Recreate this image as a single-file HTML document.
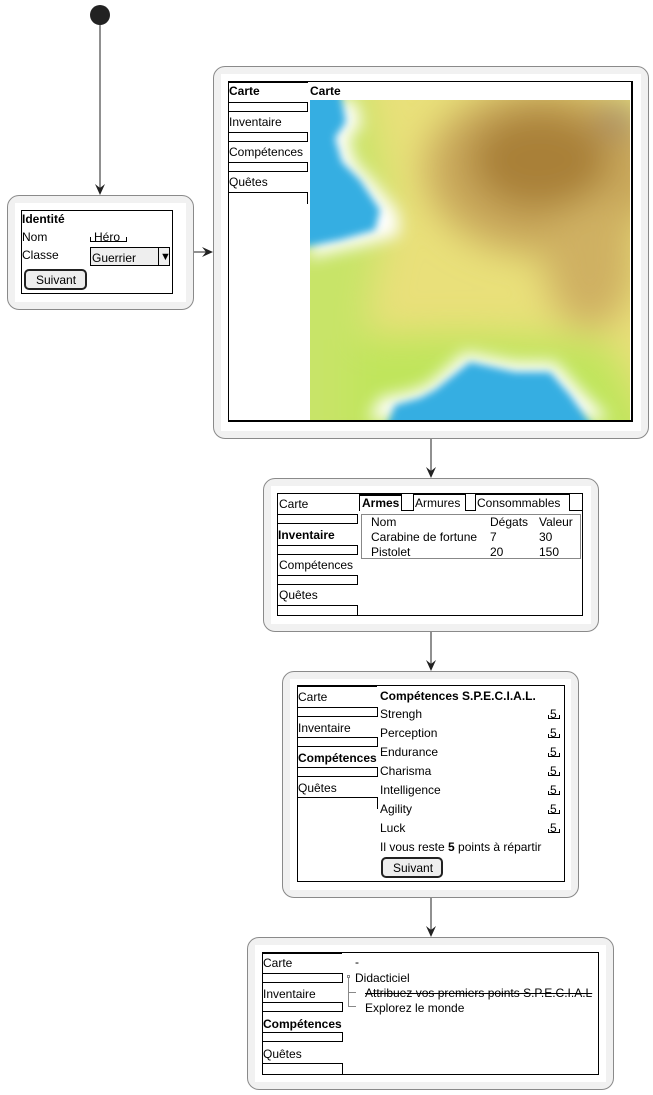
<!DOCTYPE html>
<html><head><meta charset="utf-8"><style>
body{margin:0;width:653px;height:1095px;position:relative;background:#fff;font-family:"Liberation Sans",sans-serif;font-size:12px;color:#000;overflow:hidden}
div,span{position:absolute;box-sizing:border-box}
.o{border:1px solid #8a8a8a;border-radius:12px;background:#f1f1f1}
.w{background:#fff}
.f{border:1px solid #000}
.t{white-space:nowrap;line-height:14px}
.b{font-weight:bold}
.bx{border:1px solid #000;height:10px}
.v{width:1px;background:#000}
.h{height:1px;background:#000}
</style></head><body>
<svg style="position:absolute;left:0;top:0" width="653" height="1095">
<circle cx="100" cy="15" r="10" fill="#222"/>
<g stroke="#222" stroke-width="1" fill="none">
<line x1="100" y1="25" x2="100" y2="193"/>
<line x1="193" y1="252" x2="211" y2="252"/>
<line x1="431" y1="438" x2="431" y2="476"/>
<line x1="431" y1="631" x2="431" y2="669"/>
<line x1="431" y1="897" x2="431" y2="935"/>
</g>
<g fill="#222">
<polygon points="95,184 100,195 105,184 100,188"/>
<polygon points="202,247 213,252 202,257 206,252"/>
<polygon points="426,467 431,478 436,467 431,471"/>
<polygon points="426,660 431,671 436,660 431,664"/>
<polygon points="426,926 431,937 436,926 431,930"/>
</g>
</svg>

<!-- Box 1 -->
<div class="o" style="left:7px;top:195px;width:187px;height:115px"></div>
<div class="w" style="left:15px;top:203px;width:171px;height:99px"></div>
<div class="f" style="left:21px;top:210px;width:152px;height:84px"></div>
<span class="t b" style="left:22px;top:212px">Identité</span>
<span class="t" style="left:22px;top:230px">Nom</span>
<span class="t" style="left:94px;top:230px">Héro</span>
<div style="left:90px;top:237px;width:37px;height:5px;border:1px solid #000;border-top:none"></div>
<span class="t" style="left:22px;top:248px">Classe</span>
<div style="left:90px;top:247px;width:80px;height:19px;border:1px solid #000;background:#eee"></div>
<span class="t" style="left:92px;top:251px">Guerrier</span>
<div style="left:158px;top:247px;width:1px;height:19px;background:#000"></div>
<span class="t" style="left:160px;top:250px;font-size:11px">▼</span>
<div style="left:24px;top:269px;width:63px;height:21px;border:2px solid #222;border-radius:5px;background:#eee"></div>
<span class="t" style="left:36px;top:273px">Suivant</span>

<!-- Box 2 map -->
<div class="o" style="left:213px;top:66px;width:436px;height:373px"></div>
<div class="w" style="left:221px;top:74px;width:420px;height:357px"></div>
<div class="f" style="left:228px;top:81px;width:405px;height:341px;border-right-width:2px;border-bottom-width:2px"></div>
<div class="h" style="left:228px;top:81px;width:80px;height:2px"></div>
<span class="t b" style="left:229px;top:84px">Carte</span>
<div class="bx" style="left:228px;top:102px;width:80px"></div>
<span class="t" style="left:229px;top:115px">Inventaire</span>
<div class="bx" style="left:228px;top:132px;width:80px"></div>
<span class="t" style="left:229px;top:145px">Compétences</span>
<div class="bx" style="left:228px;top:162px;width:80px"></div>
<span class="t" style="left:229px;top:175px">Quêtes</span>
<div style="left:228px;top:192px;width:80px;height:12px;border-top:1px solid #000;border-right:1px solid #000"></div>
<span class="t b" style="left:310px;top:84px">Carte</span>
<svg style="position:absolute;left:310px;top:100px" width="320" height="320">
<defs>
<filter id="bl" filterUnits="userSpaceOnUse" x="-150" y="-150" width="620" height="620"><feGaussianBlur stdDeviation="18"/></filter>
<filter id="bm" filterUnits="userSpaceOnUse" x="-150" y="-150" width="620" height="620"><feGaussianBlur stdDeviation="8"/></filter>
<filter id="bs" filterUnits="userSpaceOnUse" x="-150" y="-150" width="620" height="620"><feGaussianBlur stdDeviation="4"/></filter>
<clipPath id="cp"><rect width="320" height="320"/></clipPath>
</defs>
<g clip-path="url(#cp)">
<rect width="320" height="320" fill="#e9e07a"/>
<g filter="url(#bl)">
<path d="M-40,-40 H50 L80,100 L60,200 L50,360 H-40Z" fill="#c8e468"/>
<path d="M40,240 Q160,225 300,245 L360,360 H40Z" fill="#c0e55c"/>
<ellipse cx="235" cy="70" rx="120" ry="85" fill="#c9a85c"/>
<ellipse cx="280" cy="160" rx="45" ry="70" fill="#cfb062"/>
<ellipse cx="230" cy="60" rx="70" ry="50" fill="#a98038"/>
<ellipse cx="310" cy="18" rx="18" ry="12" fill="#7a6670"/>
</g>
<g filter="url(#bm)">
<path d="M0,0 H45 L52,25 L38,38 L45,62 L62,80 L88,112 L90,135 L55,145 L10,155 L0,160Z" fill="#fff"/>
<path d="M58,320 L70,298 L100,292 L118,285 L155,252 L205,262 L245,262 L270,290 L300,320Z" fill="#fff"/>
</g>
<g filter="url(#bs)">
<path d="M-10,-10 H30 L36,22 L25,38 L32,62 L50,80 L70,110 L65,130 L30,140 L-10,148Z" fill="#36aee2"/>
<path d="M75,330 L85,305 L110,298 L125,290 L160,262 L205,272 L240,272 L260,295 L285,330Z" fill="#36aee2"/>
</g>
</g>
</svg>

<!-- Box 3 inventory -->
<div class="o" style="left:263px;top:478px;width:336px;height:154px"></div>
<div class="w" style="left:271px;top:486px;width:320px;height:138px"></div>
<div class="f" style="left:277px;top:493px;width:306px;height:123px"></div>
<span class="t" style="left:279px;top:497px">Carte</span>
<div class="bx" style="left:277px;top:514px;width:81px"></div>
<span class="t b" style="left:278px;top:528px">Inventaire</span>
<div class="bx" style="left:277px;top:545px;width:81px"></div>
<span class="t" style="left:279px;top:558px">Compétences</span>
<div class="bx" style="left:277px;top:575px;width:81px"></div>
<span class="t" style="left:279px;top:588px">Quêtes</span>
<div class="bx" style="left:277px;top:605px;width:81px;height:11px"></div>
<div style="left:359px;top:494px;width:43px;height:17px;border:1px solid #000;border-top-width:2px;border-bottom:none"></div>
<span class="t b" style="left:362px;top:496px">Armes</span>
<div style="left:413px;top:494px;width:53px;height:17px;border:1px solid #000;border-bottom:none"></div>
<span class="t" style="left:415px;top:496px">Armures</span>
<div style="left:475px;top:494px;width:95px;height:17px;border:1px solid #000;border-bottom:none"></div>
<span class="t" style="left:477px;top:496px">Consommables</span>
<div class="h" style="left:401px;top:510px;width:13px"></div>
<div class="h" style="left:465px;top:510px;width:11px"></div>
<div class="h" style="left:569px;top:510px;width:13px"></div>
<div style="left:361px;top:514px;width:220px;height:45px;border:1px solid #888"></div>
<span class="t" style="left:371px;top:515px">Nom</span>
<span class="t" style="left:490px;top:515px">Dégats</span>
<span class="t" style="left:539px;top:515px">Valeur</span>
<span class="t" style="left:371px;top:530px">Carabine de fortune</span>
<span class="t" style="left:490px;top:530px">7</span>
<span class="t" style="left:539px;top:530px">30</span>
<span class="t" style="left:371px;top:545px">Pistolet</span>
<span class="t" style="left:490px;top:545px">20</span>
<span class="t" style="left:539px;top:545px">150</span>

<!-- Box 4 SPECIAL -->
<div class="o" style="left:282px;top:671px;width:297px;height:227px"></div>
<div class="w" style="left:290px;top:679px;width:281px;height:211px"></div>
<div class="f" style="left:297px;top:685px;width:268px;height:197px"></div>
<div class="h" style="left:297px;top:685px;width:80px;height:2px"></div>
<span class="t" style="left:298px;top:690px">Carte</span>
<div class="bx" style="left:297px;top:707px;width:81px"></div>
<span class="t" style="left:298px;top:721px">Inventaire</span>
<div class="bx" style="left:297px;top:737px;width:81px"></div>
<span class="t b" style="left:298px;top:751px">Compétences</span>
<div class="bx" style="left:297px;top:767px;width:81px"></div>
<span class="t" style="left:298px;top:781px">Quêtes</span>
<div style="left:297px;top:797px;width:81px;height:12px;border-top:1px solid #000;border-right:1px solid #000"></div>
<span class="t b" style="left:380px;top:689px">Compétences S.P.E.C.I.A.L.</span>
<span class="t" style="left:380px;top:707px">Strengh</span>
<span class="t" style="left:380px;top:726px">Perception</span>
<span class="t" style="left:380px;top:745px">Endurance</span>
<span class="t" style="left:380px;top:764px">Charisma</span>
<span class="t" style="left:380px;top:783px">Intelligence</span>
<span class="t" style="left:380px;top:802px">Agility</span>
<span class="t" style="left:380px;top:821px">Luck</span>
<span class="t" style="left:550px;top:707px">5</span><div style="left:548px;top:715px;width:12px;height:4px;border:1px solid #000;border-top:none"></div>
<span class="t" style="left:550px;top:726px">5</span><div style="left:548px;top:734px;width:12px;height:4px;border:1px solid #000;border-top:none"></div>
<span class="t" style="left:550px;top:745px">5</span><div style="left:548px;top:753px;width:12px;height:4px;border:1px solid #000;border-top:none"></div>
<span class="t" style="left:550px;top:764px">5</span><div style="left:548px;top:772px;width:12px;height:4px;border:1px solid #000;border-top:none"></div>
<span class="t" style="left:550px;top:783px">5</span><div style="left:548px;top:791px;width:12px;height:4px;border:1px solid #000;border-top:none"></div>
<span class="t" style="left:550px;top:802px">5</span><div style="left:548px;top:810px;width:12px;height:4px;border:1px solid #000;border-top:none"></div>
<span class="t" style="left:550px;top:821px">5</span><div style="left:548px;top:829px;width:12px;height:4px;border:1px solid #000;border-top:none"></div>
<span class="t" style="left:380px;top:840px">Il vous reste <b>5</b> points à répartir</span>
<div style="left:381px;top:857px;width:62px;height:21px;border:2px solid #222;border-radius:5px;background:#eee"></div>
<span class="t" style="left:393px;top:861px">Suivant</span>

<!-- Box 5 quests -->
<div class="o" style="left:247px;top:937px;width:367px;height:153px"></div>
<div class="w" style="left:255px;top:945px;width:351px;height:137px"></div>
<div class="f" style="left:262px;top:952px;width:337px;height:123px"></div>
<div class="h" style="left:262px;top:952px;width:80px;height:2px"></div>
<span class="t" style="left:263px;top:956px">Carte</span>
<div class="bx" style="left:262px;top:973px;width:81px"></div>
<span class="t" style="left:263px;top:987px">Inventaire</span>
<div class="bx" style="left:262px;top:1002px;width:81px"></div>
<span class="t b" style="left:263px;top:1017px">Compétences</span>
<div class="bx" style="left:262px;top:1032px;width:81px"></div>
<span class="t" style="left:263px;top:1047px">Quêtes</span>
<div class="bx" style="left:262px;top:1063px;width:81px;height:12px"></div>
<span class="t" style="left:355px;top:955px">-</span>
<div style="left:347px;top:975px;width:3px;height:3px;border:1px solid #888"></div>
<div style="left:348px;top:978px;width:1px;height:29px;background:#888"></div>
<div style="left:348px;top:992px;width:8px;height:1px;background:#888"></div>
<div style="left:348px;top:1006px;width:8px;height:1px;background:#888"></div>
<span class="t" style="left:355px;top:971px">Didacticiel</span>
<span class="t" style="left:365px;top:986px;text-decoration:line-through">Attribuez vos premiers points S.P.E.C.I.A.L</span>
<span class="t" style="left:365px;top:1001px">Explorez le monde</span>
</body></html>
